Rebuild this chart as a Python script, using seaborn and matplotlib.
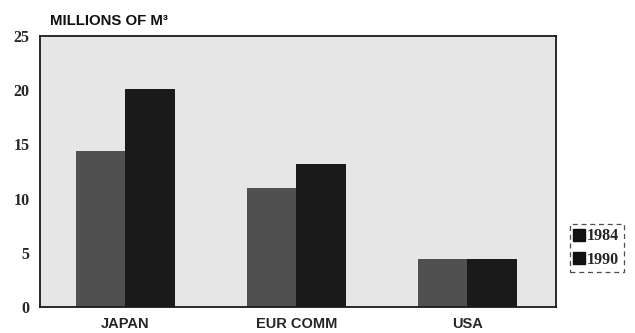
import matplotlib
matplotlib.use("Agg")
import matplotlib.pyplot as plt
from matplotlib.lines import Line2D
import seaborn as sns
import pandas as pd

regions = ["JAPAN", "EUR COMM", "USA"]
years = ["1984", "1990"]
values_1984 = [14.4, 11.0, 4.4]
values_1990 = [20.1, 13.2, 4.4]
y_ticks = [0, 5, 10, 15, 20, 25]

df = pd.DataFrame({
    "region": regions * 2,
    "year": [years[0]] * 3 + [years[1]] * 3,
    "volume": values_1984 + values_1990,
})

sns.set_theme(style="white")
plt.rcParams["font.family"] = ["Liberation Sans", "DejaVu Sans"]

fig = plt.figure(figsize=(6.35, 3.33), dpi=100)
ax = fig.add_axes([0.063, 0.078, 0.813, 0.814])
ax.set_facecolor("#e6e6e6")

palette = {"1984": "#505050", "1990": "#1a1a1a"}
sns.barplot(data=df, x="region", y="volume", hue="year", order=regions,
            hue_order=years, palette=palette, width=0.58, saturation=1,
            edgecolor="none", linewidth=0, legend=False, ax=ax)

ax.set_xlim(-0.5, 2.52)
ax.set_ylim(0, 25)
ax.set_yticks(y_ticks)
ax.set_yticklabels([str(t) for t in y_ticks], family="Liberation Serif",
                   fontweight="bold", fontsize=11.5)
ax.set_xticks(range(len(regions)))
ax.set_xticklabels(regions, fontweight="bold", fontsize=10.5)
ax.set_xticks([0.5, 1.5], minor=True)
ax.tick_params(axis="x", which="major", length=0, pad=7)
ax.tick_params(axis="x", which="minor", direction="in", length=4, width=1, color="#222")
ax.tick_params(axis="y", direction="inout", length=5, width=1, color="#222", pad=5)
ax.set_xlabel("")
ax.set_ylabel("")

for side in ["left", "right", "top", "bottom"]:
    ax.spines[side].set_visible(True)
    ax.spines[side].set_color("#1a1a1a")
    ax.spines[side].set_linewidth(1.3)

fig.text(0.079, 0.925, "MILLIONS OF M³", fontweight="bold", fontsize=10.8,
         ha="left", va="baseline", color="#111")

handles = [Line2D([], [], marker="s", linestyle="none", markersize=9,
                  markerfacecolor="#111", markeredgecolor="#111") for _ in years]
leg = fig.legend(handles, years, loc="center left", bbox_to_anchor=(0.897, 0.255),
                 frameon=True, handlelength=0.55, handletextpad=0.25,
                 borderpad=0.3, borderaxespad=0, labelspacing=0.45,
                 prop={"family": "Liberation Serif", "weight": "bold", "size": 11.5})
frame = leg.get_frame()
frame.set_edgecolor("#222")
frame.set_linestyle((0, (4, 3)))
frame.set_linewidth(0.9)
frame.set_boxstyle("square", pad=0)

fig.savefig("out.png", dpi=100, facecolor="white")
